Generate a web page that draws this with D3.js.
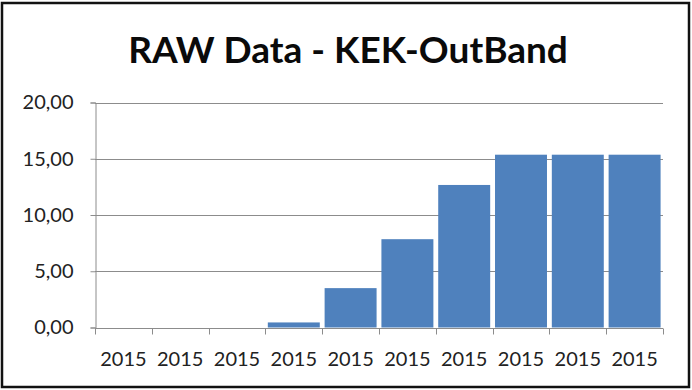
<!DOCTYPE html>
<html>
<head>
<meta charset="utf-8">
<script src="https://cdn.jsdelivr.net/npm/d3@7"></script>
<style>
  html, body { margin: 0; padding: 0; background: #fff; }
  svg { display: block; }
</style>
</head>
<body>
<svg id="chart" width="692" height="390"></svg>
<script>
// Chart content
const chartTitle = "RAW Data - KEK-OutBand";
const categories = ["c1", "c2", "c3", "c4", "c5", "c6", "c7", "c8", "c9", "c10"];
const categoryLabels = ["2015", "2015", "2015", "2015", "2015", "2015", "2015", "2015", "2015", "2015"];
const values = [0, 0, 0, 0.45, 3.5, 7.85, 12.67, 15.36, 15.36, 15.36];
const yTicks = [0, 5, 10, 15, 20];

const W = 692, H = 390;
const margin = { left: 95, right: 29, top: 102.5, bottom: 62.5 };
const svg = d3.select("#chart");

// Outer frame
svg.append("rect")
  .attr("x", 2).attr("y", 3)
  .attr("width", W - 5).attr("height", H - 6)
  .attr("fill", "#fff")
  .attr("stroke", "#111").attr("stroke-width", 2.5);

const x = d3.scaleBand()
  .domain(categories)
  .range([margin.left, W - margin.right])
  .paddingInner(0.085)
  .paddingOuter(0.0425);

const y = d3.scaleLinear()
  .domain([0, 20])
  .range([H - margin.bottom, margin.top]);

const fmt = v => v.toFixed(2).replace(".", ",");
const font = "Lato, 'Open Sans', sans-serif";

// Horizontal gridlines
svg.append("g")
  .selectAll("line")
  .data(yTicks.filter(t => t > 0))
  .join("line")
  .attr("x1", margin.left).attr("x2", W - margin.right)
  .attr("y1", d => Math.round(y(d)) + 0.5).attr("y2", d => Math.round(y(d)) + 0.5)
  .attr("stroke", "#8c8c8c").attr("stroke-width", 1);

// Bars
svg.append("g")
  .selectAll("rect")
  .data(values)
  .join("rect")
  .attr("x", (d, i) => x(categories[i]))
  .attr("width", x.bandwidth())
  .attr("y", d => y(d))
  .attr("height", d => y(0) - y(d))
  .attr("fill", "#4f81bd");

// Y axis
const yAxis = svg.append("g")
  .attr("transform", `translate(${margin.left + 0.5},0)`)
  .call(d3.axisLeft(y).tickValues(yTicks).tickFormat(fmt).tickSize(5).tickPadding(17));
yAxis.select(".domain").attr("stroke", "#8c8c8c");
yAxis.selectAll(".tick line").attr("stroke", "#8c8c8c");
yAxis.selectAll(".tick text")
  .attr("font-family", font).attr("font-size", 20).attr("fill", "#222");

// X axis with ticks at category boundaries
const xAxisY = Math.round(y(0)) + 0.5;
const xg = svg.append("g").attr("transform", `translate(0,${xAxisY})`);
xg.append("line")
  .attr("x1", margin.left).attr("x2", W - margin.right)
  .attr("stroke", "#8c8c8c");
const bounds = d3.range(categories.length + 1).map(i => margin.left + i * (W - margin.left - margin.right) / categories.length);
xg.selectAll("line.tk")
  .data(bounds)
  .join("line")
  .attr("class", "tk")
  .attr("x1", d => Math.round(d) + 0.5).attr("x2", d => Math.round(d) + 0.5)
  .attr("y1", 0).attr("y2", 6)
  .attr("stroke", "#8c8c8c");
xg.selectAll("text")
  .data(categoryLabels)
  .join("text")
  .attr("x", (d, i) => x(categories[i]) + x.bandwidth() / 2)
  .attr("y", 37)
  .attr("text-anchor", "middle")
  .attr("font-family", font).attr("font-size", 20).attr("fill", "#222")
  .text(d => d);

// Title
svg.append("text")
  .attr("x", 348).attr("y", 63)
  .attr("text-anchor", "middle")
  .attr("font-family", font).attr("font-weight", "bold").attr("font-size", 37)
  .attr("fill", "#0a0a0a")
  .text(chartTitle);
</script>
</body>
</html>
